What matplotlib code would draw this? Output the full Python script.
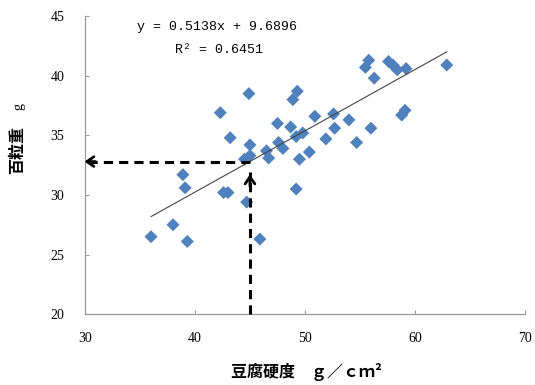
import matplotlib
matplotlib.use('Agg')
import matplotlib.pyplot as plt
import numpy as np

# tofu hardness (g/cm2) vs 100-seed weight (g)
hardness = [36.0, 38.0, 39.3, 38.9, 39.1, 42.3, 42.6, 43.0, 43.2, 44.9,
            45.0, 45.0, 44.5, 44.7, 45.9, 46.5, 46.7, 47.5, 47.6, 48.0,
            48.7, 48.9, 49.3, 49.2, 49.8, 49.5, 49.2, 50.4, 50.9, 51.9,
            52.6, 52.7, 54.0, 54.7, 55.8, 55.5, 56.0, 56.3, 57.6, 58.0,
            58.4, 59.2, 58.8, 59.1, 62.9]
weight = [26.5, 27.5, 26.1, 31.7, 30.6, 36.9, 30.2, 30.2, 34.8, 38.5,
          34.2, 33.3, 33.0, 29.4, 26.3, 33.7, 33.1, 36.0, 34.4, 33.9,
          35.7, 38.0, 38.7, 34.9, 35.2, 33.0, 30.5, 33.6, 36.6, 34.7,
          36.8, 35.6, 36.3, 34.4, 41.3, 40.7, 35.6, 39.8, 41.2, 40.9,
          40.5, 40.6, 36.7, 37.1, 40.9]

slope, intercept = 0.5138, 9.6896
r2 = 0.6451

# reading guide: x = 45 -> y ~ 32.8
guide_x = 45
guide_y = 32.8

fig = plt.figure(figsize=(5.35, 3.85), dpi=100)
ax = fig.add_axes([0.159, 0.184, 0.822, 0.774])

ax.scatter(hardness, weight, marker='D', s=44, color='#4f81bd', edgecolors='none', zorder=2)

xs = np.array([min(hardness), max(hardness)])
ax.plot(xs, slope * xs + intercept, color='#444444', lw=0.8, zorder=3)

ax.text(42.0, 44.05, f'y = {slope}x + {intercept}', family='Liberation Mono', fontsize=9.5,
        ha='center', va='center')
ax.text(42.2, 42.2, f'R² = {r2}', family='Liberation Mono', fontsize=9.5,
        ha='center', va='center')

# dashed guide lines with open arrow heads
dash = (0, (3, 2))
ax.plot([guide_x, guide_x], [20, 31.9], color='black', lw=2.2, linestyle=dash,
        zorder=4, clip_on=False)
ax.plot([guide_x, 29.8], [guide_y, guide_y], color='black', lw=2.2, linestyle=dash,
        zorder=4, clip_on=False)
ax.annotate('', xy=(guide_x, 31.95), xytext=(guide_x, 30.5),
            arrowprops=dict(arrowstyle='->,head_length=0.5,head_width=0.35', color='black', lw=2.0),
            zorder=5, annotation_clip=False)
ax.annotate('', xy=(29.7, guide_y), xytext=(31.2, guide_y),
            arrowprops=dict(arrowstyle='->,head_length=0.5,head_width=0.35', color='black', lw=2.0),
            zorder=5, annotation_clip=False)

ax.set_xlim(30, 70)
ax.set_ylim(20, 45)
ax.set_xticks([30, 40, 50, 60, 70])
ax.set_yticks([20, 25, 30, 35, 40, 45])

for side in ['top', 'right']:
    ax.spines[side].set_visible(False)
for side in ['left', 'bottom']:
    ax.spines[side].set_color('#9a9a9a')
    ax.spines[side].set_linewidth(0.9)

ax.tick_params(direction='in', length=3, color='#9a9a9a', labelsize=10)
ax.tick_params(axis='x', pad=13)
ax.tick_params(axis='y', pad=15)
for lbl in ax.get_xticklabels() + ax.get_yticklabels():
    lbl.set_family('Liberation Serif')

fig.text(0.572, 0.034, '豆腐硬度　ｇ／ｃｍ²', family=['Noto Sans CJK JP', 'DejaVu Sans'],
         fontsize=11.5, fontweight='bold', ha='center', va='center')
fig.text(0.032, 0.61, '百粒重', family=['Noto Sans CJK JP', 'DejaVu Sans'],
         fontsize=11.5, fontweight='bold', ha='center', va='center', rotation=90)
fig.text(0.036, 0.722, 'g', family='Liberation Serif',
         fontsize=10, ha='center', va='center', rotation=90)

fig.savefig('out.png', dpi=100)
